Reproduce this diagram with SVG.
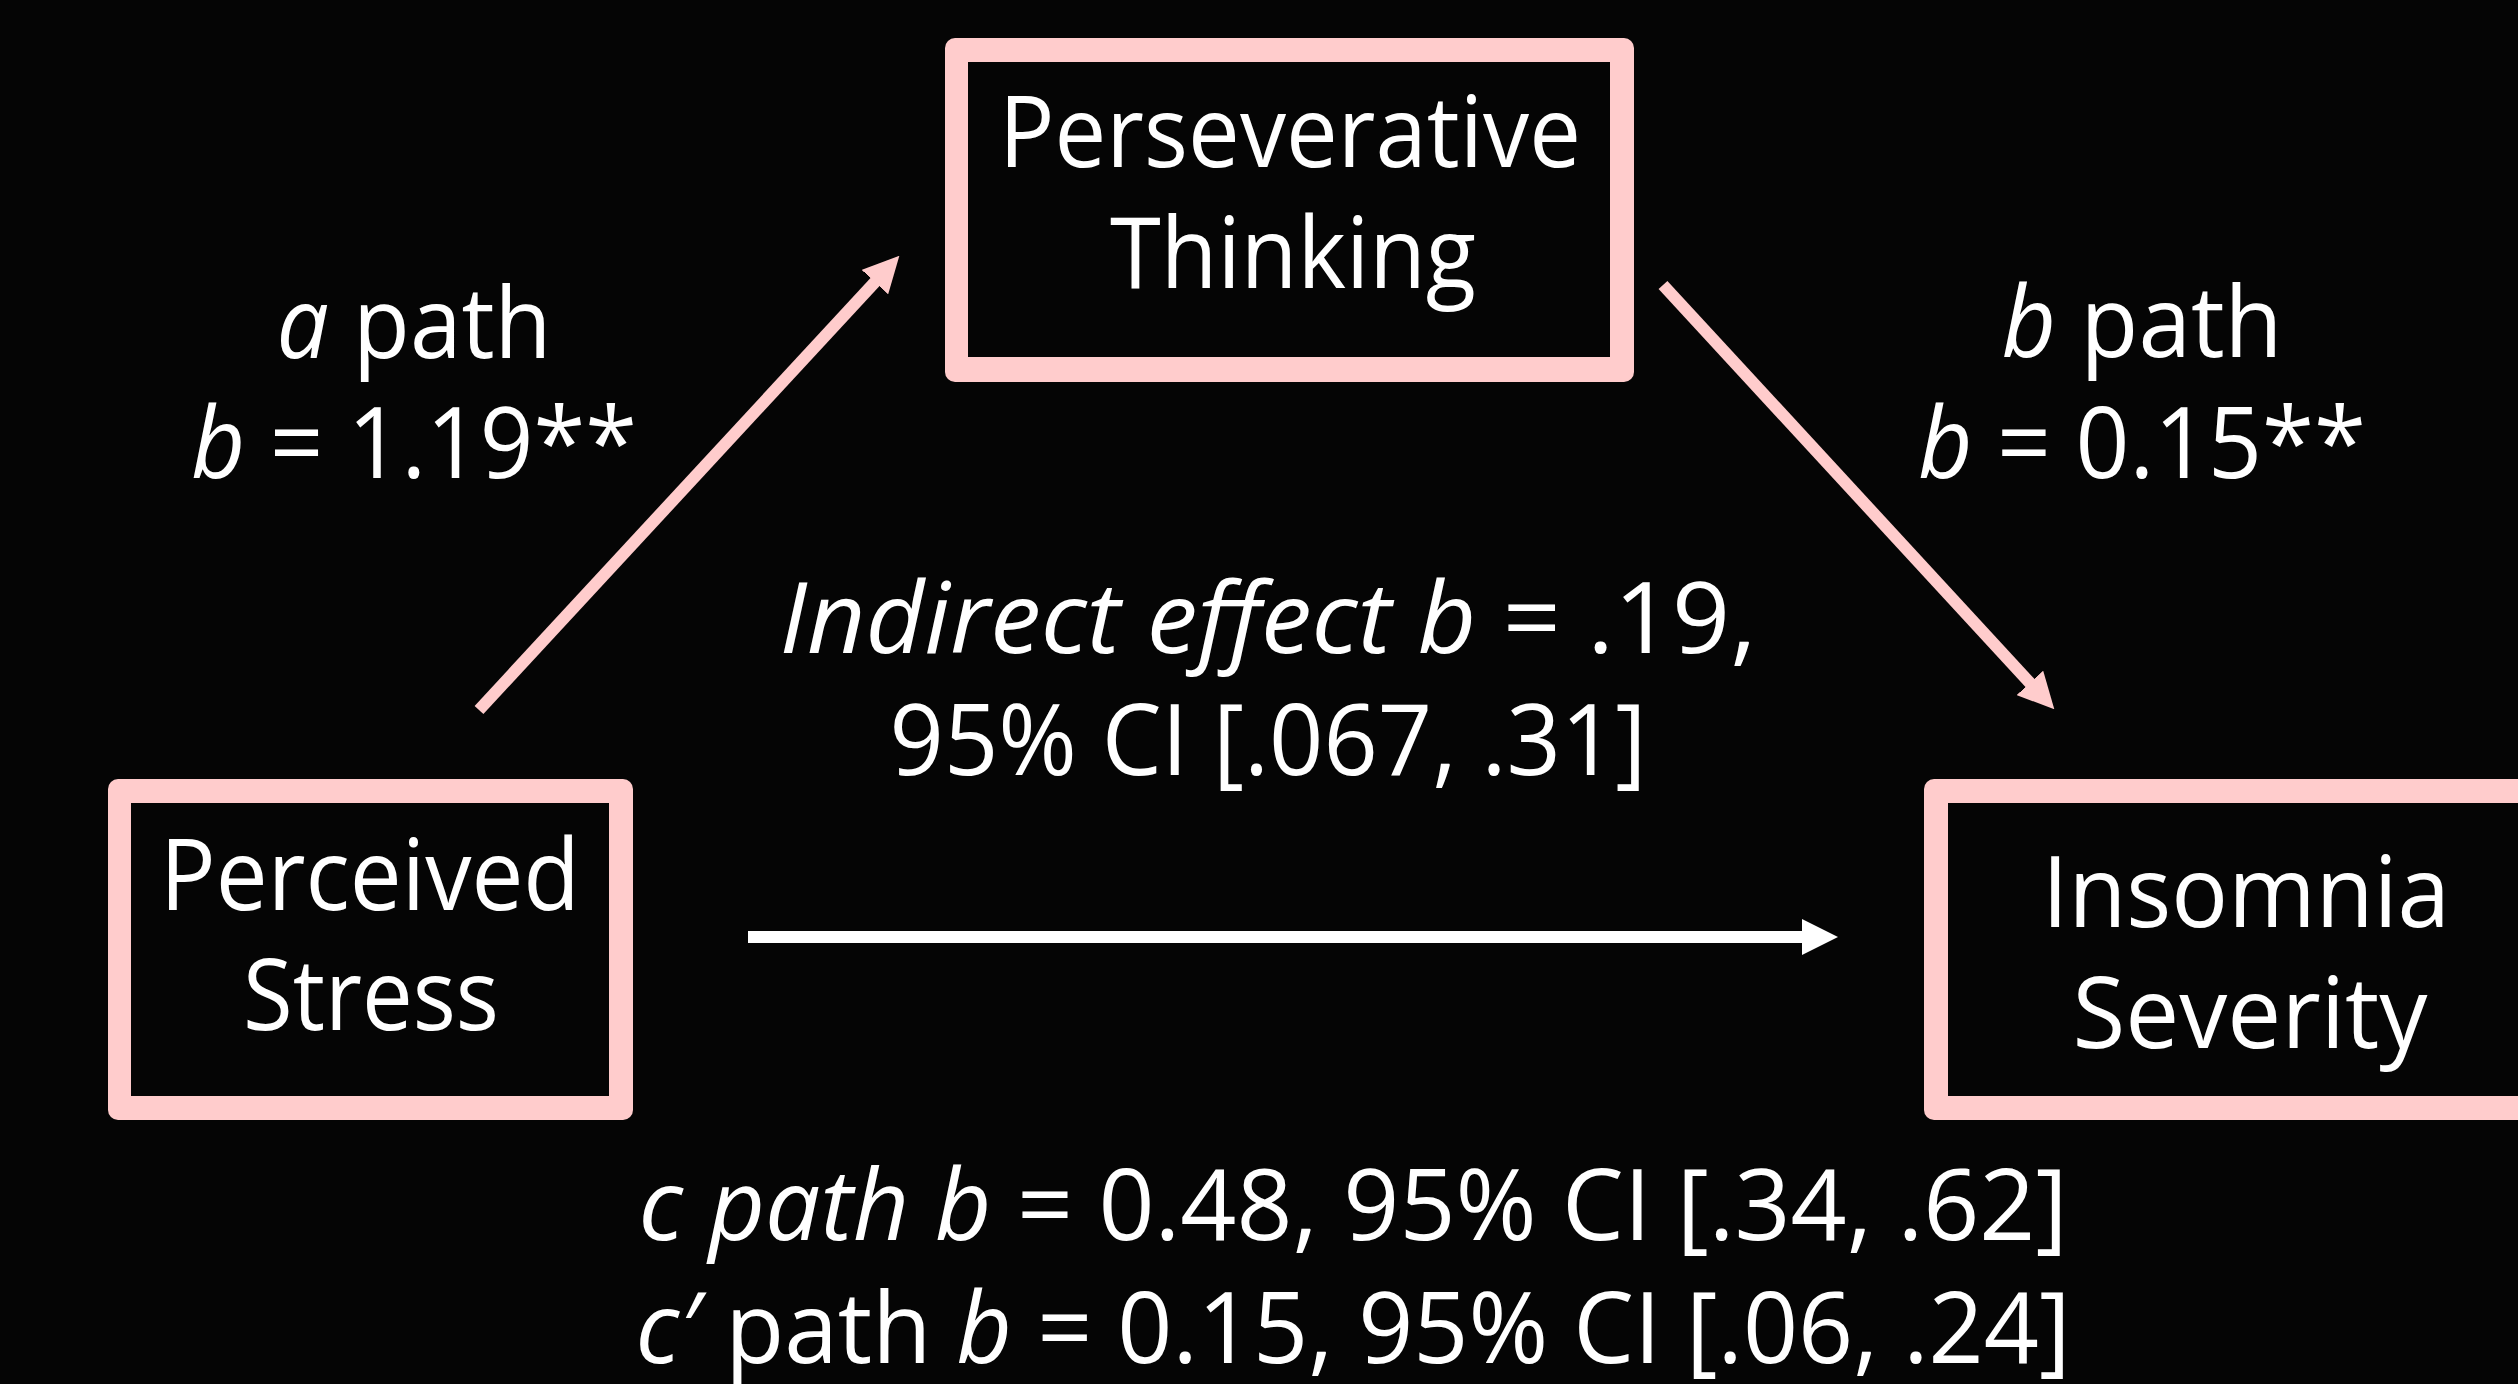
<svg xmlns="http://www.w3.org/2000/svg" width="2518" height="1384" viewBox="0 0 2518 1384">
  <style>
    .frame { fill: #FFCCCC; }
    .inner { fill: #050505; }
    .t { font-family: "Open Sans", "Noto Sans", "DejaVu Sans", sans-serif; font-size: 98px; fill: #FFFFFF; text-anchor: middle; }
    .i { font-style: italic; }
    .pink { stroke: #FFCCCC; stroke-width: 12; fill: none; }
    .white { stroke: #FFFFFF; stroke-width: 12; fill: none; }
  </style>
  <defs>
    <marker id="headPink" markerUnits="userSpaceOnUse" viewBox="0 -18 36 36" refX="1" refY="0" markerWidth="36" markerHeight="36" orient="auto">
      <path d="M0,-18 L36,0 L0,18 Z" fill="#FFCCCC"/>
    </marker>
    <marker id="headWhite" markerUnits="userSpaceOnUse" viewBox="0 -18 36 36" refX="1" refY="0" markerWidth="36" markerHeight="36" orient="auto">
      <path d="M0,-18 L36,0 L0,18 Z" fill="#FFFFFF"/>
    </marker>
  </defs>
  <rect x="0" y="0" width="2518" height="1384" fill="#050505"/>

  <g id="connectors">
    <line class="pink" x1="479" y1="710" x2="875.6" y2="281.4" marker-end="url(#headPink)"/>
    <line class="pink" x1="1663" y1="285" x2="2030.6" y2="683.6" marker-end="url(#headPink)"/>
    <line class="white" x1="748" y1="937" x2="1803" y2="937" marker-end="url(#headWhite)"/>
  </g>

  <g id="node-perseverative">
    <rect class="frame" x="945" y="38" width="689" height="344" rx="10"/>
    <rect class="inner" x="968" y="62" width="642" height="295"/>
    <text class="t" x="1290" y="167" textLength="582" lengthAdjust="spacingAndGlyphs">Perseverative</text>
    <text class="t" x="1293" y="288" textLength="366" lengthAdjust="spacingAndGlyphs">Thinking</text>
  </g>

  <g id="node-perceived">
    <rect class="frame" x="108" y="779" width="525" height="341" rx="10"/>
    <rect class="inner" x="131" y="803" width="478" height="293"/>
    <text class="t" x="370" y="910" textLength="420" lengthAdjust="spacingAndGlyphs">Perceived</text>
    <text class="t" x="371" y="1030" textLength="256" lengthAdjust="spacingAndGlyphs">Stress</text>
  </g>

  <g id="node-insomnia">
    <rect class="frame" x="1924" y="779" width="650" height="341" rx="10"/>
    <rect class="inner" x="1948" y="803" width="626" height="293"/>
    <text class="t" x="2246" y="927" textLength="408" lengthAdjust="spacingAndGlyphs">Insomnia</text>
    <text class="t" x="2250" y="1048" textLength="355" lengthAdjust="spacingAndGlyphs">Severity</text>
  </g>

  <g id="labels">
    <text class="t" x="414" y="358" textLength="275" lengthAdjust="spacingAndGlyphs"><tspan class="i">a</tspan> path</text>
    <text class="t" x="414" y="478" textLength="446" lengthAdjust="spacingAndGlyphs"><tspan class="i">b</tspan> = 1.19**</text>
    <text class="t" x="2142" y="357" textLength="281" lengthAdjust="spacingAndGlyphs"><tspan class="i">b</tspan> path</text>
    <text class="t" x="2142" y="478" textLength="448" lengthAdjust="spacingAndGlyphs"><tspan class="i">b</tspan> = 0.15**</text>
    <text class="t" x="1268" y="653" textLength="977" lengthAdjust="spacingAndGlyphs"><tspan class="i">Indirect effect b</tspan> = .19,</text>
    <text class="t" x="1268" y="775" textLength="757" lengthAdjust="spacingAndGlyphs">95% CI [.067, .31]</text>
    <text class="t" x="1353" y="1240" textLength="1429" lengthAdjust="spacingAndGlyphs"><tspan class="i">c path b</tspan> = 0.48, 95% CI [.34, .62]</text>
    <text class="t" x="1353" y="1363" textLength="1435" lengthAdjust="spacingAndGlyphs"><tspan class="i">c′</tspan> path <tspan class="i">b</tspan> = 0.15, 95% CI [.06, .24]</text>
  </g>
</svg>
